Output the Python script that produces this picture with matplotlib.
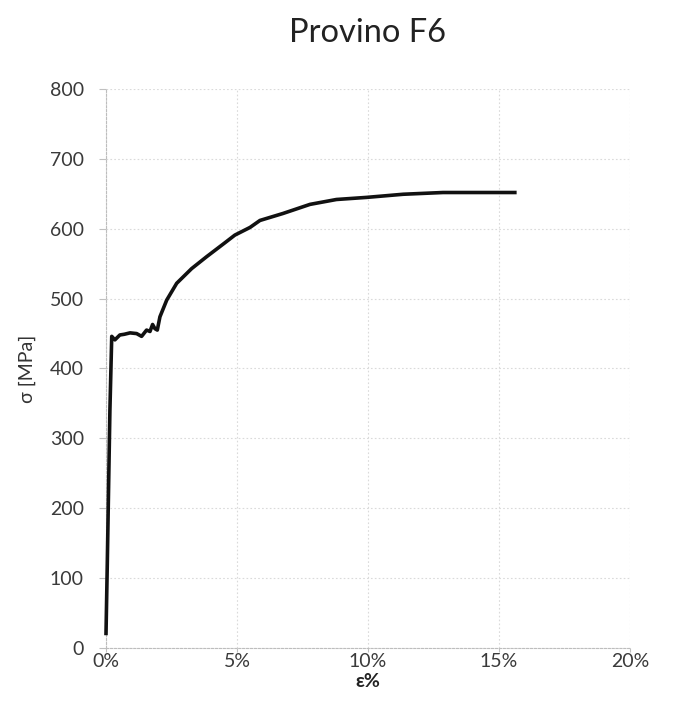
import matplotlib.pyplot as plt
from matplotlib.ticker import FuncFormatter

# strain [%] and stress [MPa]
strain = [0.00, 0.05, 0.10, 0.15, 0.22, 0.34, 0.53, 0.70, 0.92, 1.17, 1.36, 1.55,
          1.68, 1.78, 1.87, 1.96, 2.06, 2.32, 2.70, 3.27, 3.84, 4.54, 4.92, 5.50,
          5.88, 6.76, 7.79, 8.80, 9.95, 11.35, 12.87, 14.40, 15.68]
stress = [18, 120, 230, 340, 446, 441, 448, 449, 451, 450, 446, 455,
          453, 463, 457, 455, 474, 498, 522, 543, 560, 580, 591, 602,
          612, 622, 635, 642, 645, 649.5, 652, 652, 652]

x_ticks = [0, 5, 10, 15, 20]
y_ticks = [0, 100, 200, 300, 400, 500, 600, 700, 800]

plt.rcParams['font.family'] = ['Lato', 'DejaVu Sans']

fig = plt.figure(figsize=(6.75, 7.19), dpi=100)
ax = fig.add_axes([0.157, 0.099, 0.776, 0.777])

# curve starts right on the y axis, so don't clip it there
ax.plot(strain, stress, color='#111111', linewidth=2.6, clip_on=False,
        solid_joinstyle='round', solid_capstyle='butt', zorder=3)

ax.set_xlim(0, 20)
ax.set_ylim(0, 800)
ax.set_xticks(x_ticks)
ax.set_yticks(y_ticks)
ax.xaxis.set_major_formatter(FuncFormatter(lambda v, p: f"{int(v)}%"))

grid_col = '#dadada'
ax.grid(True, color=grid_col, linestyle=(0, (1.5, 2)), linewidth=0.8)
for s in ['top', 'right']:
    ax.spines[s].set_visible(False)
for s in ['left', 'bottom']:
    ax.spines[s].set_color('#bdbdbd')
    ax.spines[s].set_linestyle((0, (2, 1.5)))
    ax.spines[s].set_linewidth(0.8)

ax.tick_params(axis='both', colors='#c0c0c0', labelcolor='#3a3a3a', labelsize=14,
               width=0.8)
ax.tick_params(axis='y', length=5, pad=11)
ax.tick_params(axis='x', length=3, pad=1)

ax.set_title('Provino F6', fontsize=23.5, color='#222222', pad=34)
ax.set_ylabel('σ [MPa]', fontsize=14, color='#333333', labelpad=10)
ax.set_xlabel('ε%', fontsize=14, color='#222222', fontweight='bold', labelpad=2)

fig.savefig('out.png', dpi=100, facecolor='white')
